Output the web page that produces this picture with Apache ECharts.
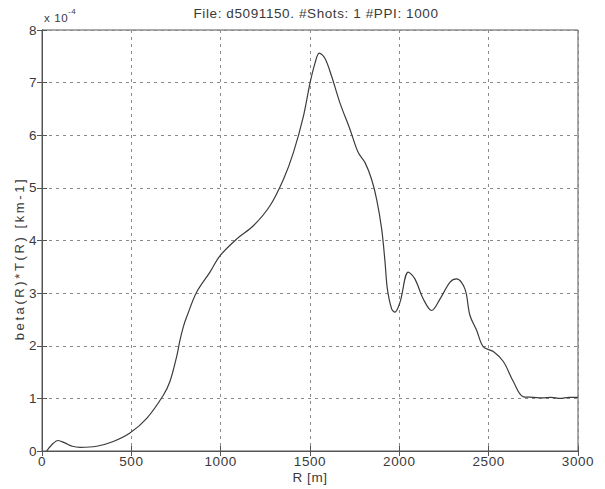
<!DOCTYPE html>
<html>
<head>
<meta charset="utf-8">
<script src="https://cdn.jsdelivr.net/npm/echarts@6/dist/echarts.min.js"></script>
<style>
  html, body { margin: 0; padding: 0; background: #fff; }
  #chart { width: 605px; height: 489px; }
  /* loose MATLAB-style lettering */
  #chart svg text { letter-spacing: 0.6px; }
  /* the rotated y-axis title is set with wide tracking */
  #chart svg text[transform^="matrix(0,-1"], #chart svg text[transform^="matrix(0 -1"] { letter-spacing: 2.6px; }
</style>
</head>
<body>
<div id="chart"></div>
<script>
// Range samples [m] and backscatter * transmission [x 1e-4 km-1]
var rangeM = [26, 55, 90, 130, 170, 213, 306, 399, 492, 586, 679, 716, 754, 772, 791, 810, 866, 940, 996, 1090,
  1183, 1276, 1351, 1407, 1463, 1500, 1528, 1552, 1584, 1621, 1668, 1724, 1770, 1808, 1845, 1873, 1901, 1920,
  1933, 1957, 1975, 2004, 2050, 2087, 2134, 2181, 2228, 2284, 2321, 2367, 2395, 2433, 2470, 2526, 2582, 2638,
  2694, 2750, 2800, 2850, 2900, 2950, 3000];
var betaT = [0.0, 0.12, 0.2, 0.15, 0.09, 0.07, 0.09, 0.18, 0.34, 0.62, 1.06, 1.32, 1.80, 2.10, 2.36, 2.55, 3.02, 3.40, 3.71, 4.03,
  4.28, 4.66, 5.16, 5.67, 6.36, 6.99, 7.37, 7.56, 7.46, 7.12, 6.61, 6.11, 5.67, 5.48, 5.16, 4.78, 4.22, 3.59,
  3.08, 2.70, 2.64, 2.83, 3.40, 3.27, 2.89, 2.67, 2.89, 3.21, 3.27, 3.08, 2.58, 2.29, 1.98, 1.89, 1.70, 1.32,
  1.03, 1.02, 1.01, 1.02, 1.00, 1.02, 1.02];
var xTicks = [0, 500, 1000, 1500, 2000, 2500, 3000];
var yTicks = [0, 1, 2, 3, 4, 5, 6, 7, 8];

var titleText = 'File: d5091150. #Shots: 1 #PPI: 1000';
var xName = 'R [m]';
var yName = 'beta(R)*T(R) [km-1]';
var scaleBase = 'x 10';
var scaleExp = '-4';

var font = '"Liberation Sans", Arial, sans-serif';
var textColor = '#3a3a3a';
var gridLine = { show: true, lineStyle: { color: '#8a8a8a', type: [3, 4], width: 1 } };

var chart = echarts.init(document.getElementById('chart'), null, { renderer: 'svg' });
var seriesData = rangeM.map(function (r, i) { return [r, betaT[i]]; });

chart.setOption({
  backgroundColor: '#ffffff',
  animation: false,
  title: {
    text: titleText, left: 311, top: 1, textAlign: 'center',
    textStyle: { fontFamily: font, fontSize: 13.5, fontWeight: 'normal', color: textColor }
  },
  grid: { left: 42, right: 27, top: 30, bottom: 36, show: true, borderColor: '#555', borderWidth: 1 },
  xAxis: [{
    type: 'value', min: xTicks[0], max: xTicks[xTicks.length - 1], interval: xTicks[1] - xTicks[0],
    name: xName, nameLocation: 'middle', nameGap: 19, nameMoveOverlap: false,
    nameTextStyle: { fontFamily: font, fontSize: 13.5, color: textColor },
    axisLine: { show: true, lineStyle: { color: '#555' } },
    axisTick: { show: true, inside: true, length: 5, lineStyle: { color: '#555' } },
    axisLabel: { fontFamily: font, fontSize: 13.5, color: textColor, margin: 3,
      formatter: function (v) { return String(v); } },
    splitLine: gridLine
  }, {
    type: 'value', position: 'top', min: xTicks[0], max: xTicks[xTicks.length - 1], interval: xTicks[1] - xTicks[0],
    axisLine: { show: true, lineStyle: { color: '#555' } },
    axisTick: { show: true, inside: true, length: 5, lineStyle: { color: '#555' } },
    axisLabel: { show: false }, splitLine: { show: false }
  }],
  yAxis: [{
    type: 'value', min: yTicks[0], max: yTicks[yTicks.length - 1], interval: 1,
    name: yName, nameLocation: 'middle', nameGap: 16, nameRotate: 90, nameMoveOverlap: false,
    nameTextStyle: { fontFamily: font, fontSize: 13, color: textColor, padding: [0, 36, 0, 0] },
    axisLine: { show: true, lineStyle: { color: '#555' } },
    axisTick: { show: true, inside: true, length: 5, lineStyle: { color: '#555' } },
    axisLabel: { fontFamily: font, fontSize: 13.5, color: textColor, margin: 5 },
    splitLine: gridLine
  }, {
    type: 'value', position: 'right', min: yTicks[0], max: yTicks[yTicks.length - 1], interval: 1,
    axisLine: { show: true, lineStyle: { color: '#555' } },
    axisTick: { show: true, inside: true, length: 5, lineStyle: { color: '#555' } },
    axisLabel: { show: false }, splitLine: { show: false }
  }],
  graphic: [{
    type: 'text', left: 44, top: 12,
    style: { text: scaleBase, fontFamily: font, fontSize: 11.5, fill: textColor }
  }, {
    type: 'text', left: 68, top: 7,
    style: { text: scaleExp, fontFamily: font, fontSize: 8, fill: textColor }
  }],
  series: [{
    type: 'line', data: seriesData, xAxisIndex: 0, yAxisIndex: 0,
    showSymbol: false, smooth: 0.35,
    lineStyle: { color: '#3c3c3c', width: 1.2 }
  }]
});
</script>
</body>
</html>
